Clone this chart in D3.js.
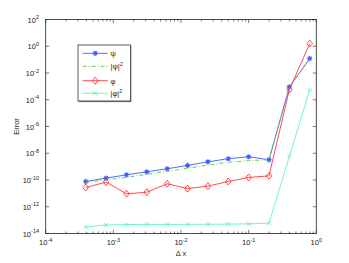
<!DOCTYPE html>
<html><head><meta charset="utf-8">
<script src="https://cdn.jsdelivr.net/npm/d3@7"></script>
<style>body{margin:0;background:#fff}svg{display:block}text{font-family:"Liberation Sans",Arial,sans-serif}</style>
</head><body>
<script>
const dx = [0.000390625, 0.00078125, 0.0015625, 0.003125, 0.00625, 0.0125, 0.025, 0.05, 0.1, 0.2, 0.4, 0.8];
const psiErr   = [-10.11, -9.86, -9.61, -9.39, -9.16, -8.91, -8.64, -8.41, -8.26, -8.49, -3.04, -0.92].map(v => Math.pow(10, v));
const psi2Err  = [-10.19, -9.99, -9.80, -9.58, -9.35, -9.13, -8.89, -8.67, -8.55, -8.49, -3.06, -0.95].map(v => Math.pow(10, v));
const phiErr   = [-10.56, -10.16, -11.03, -10.91, -10.28, -10.64, -10.46, -10.11, -9.81, -9.69, -3.24, 0.20].map(v => Math.pow(10, v));
const phi2Err  = [-13.53, -13.36, -13.33, -13.32, -13.32, -13.32, -13.31, -13.30, -13.28, -13.23, -8.24, -3.27].map(v => Math.pow(10, v));
const xTickExp = [-4, -3, -2, -1, 0];
const yTickExp = [2, 0, -2, -4, -6, -8, -10, -12, -14];
const seriesNames = ["ψ", "|ψ|", "φ", "|φ|"];

const W = 349, H = 263;
const m = {l: 45.7, r: 349 - 316.3, t: 19.5, b: 263 - 233.5};
const svg = d3.select("body").append("svg").attr("width", W).attr("height", H);
const x = d3.scaleLog().domain([1e-4, 1]).range([m.l, W - m.r]);
const y = d3.scaleLog().domain([1e-14, 1e2]).range([H - m.b, m.t]);

const series = [
  {name: seriesNames[0], sup: "", data: psiErr, color: "#3a5cff", dash: null, marker: "star"},
  {name: seriesNames[1], sup: "2", data: psi2Err, color: "#5fc44a", dash: "4,2,1,2", marker: null},
  {name: seriesNames[2], sup: "", data: phiErr, color: "#ff3838", dash: null, marker: "diamond"},
  {name: seriesNames[3], sup: "2", data: phi2Err, color: "#5ff5b8", dash: null, marker: "x"}
];

// axes box
const g = svg.append("g");
const line = d3.line().x((d, i) => x(dx[i])).y(d => y(d));

series.forEach(s => {
  g.append("path").attr("d", line(s.data)).attr("fill", "none")
    .attr("stroke", s.color).attr("stroke-width", 0.9)
    .attr("stroke-dasharray", s.dash);
  if (s.marker) {
    s.data.forEach((v, i) => drawMarker(g, s.marker, x(dx[i]), y(v), s.color));
  }
});

function drawMarker(p, type, cx, cy, c) {
  if (type === "diamond") {
    p.append("path").attr("d", `M${cx},${cy-3.5}L${cx+2.8},${cy}L${cx},${cy+3.5}L${cx-2.8},${cy}Z`)
      .attr("fill", "none").attr("stroke", c).attr("stroke-width", 0.9);
  } else if (type === "x") {
    const r = 2;
    p.append("path").attr("d", `M${cx-r},${cy-r}L${cx+r},${cy+r}M${cx-r},${cy+r}L${cx+r},${cy-r}`)
      .attr("stroke", c).attr("stroke-width", 0.9);
  } else if (type === "star") {
    const r = 2.6;
    p.append("path").attr("d", `M${cx-r},${cy}L${cx+r},${cy}M${cx},${cy-r}L${cx},${cy+r}M${cx-r*0.7},${cy-r*0.7}L${cx+r*0.7},${cy+r*0.7}M${cx-r*0.7},${cy+r*0.7}L${cx+r*0.7},${cy-r*0.7}`)
      .attr("stroke", c).attr("stroke-width", 1.1);
  }
}

// frame
const x0 = x.range()[0], x1 = x.range()[1], y0 = y.range()[0], y1 = y.range()[1];
svg.append("rect").attr("x", x0).attr("y", y1).attr("width", x1 - x0).attr("height", y0 - y1)
  .attr("fill", "none").attr("stroke", "#222").attr("stroke-width", 0.8);

// ticks
const tk = svg.append("g").attr("stroke", "#222").attr("stroke-width", 0.6);
const minorX = [];
for (let e = -4; e < 0; e++) for (let k = 2; k <= 9; k++) minorX.push(k * Math.pow(10, e));
xTickExp.forEach(e => {
  const px = x(Math.pow(10, e));
  tk.append("line").attr("x1", px).attr("x2", px).attr("y1", y0).attr("y2", y0 - 3.5);
  tk.append("line").attr("x1", px).attr("x2", px).attr("y1", y1).attr("y2", y1 + 3.5);
});
minorX.forEach(v => {
  const px = x(v);
  tk.append("line").attr("x1", px).attr("x2", px).attr("y1", y0).attr("y2", y0 - 2);
  tk.append("line").attr("x1", px).attr("x2", px).attr("y1", y1).attr("y2", y1 + 2);
});
yTickExp.forEach(e => {
  const py = y(Math.pow(10, e));
  tk.append("line").attr("x1", x0).attr("x2", x0 + 3.5).attr("y1", py).attr("y2", py);
  tk.append("line").attr("x1", x1).attr("x2", x1 - 3.5).attr("y1", py).attr("y2", py);
});

// tick labels
const fs = 7.5;
xTickExp.forEach(e => {
  const t = svg.append("text").attr("x", x(Math.pow(10, e))).attr("y", 245)
    .attr("text-anchor", "middle").attr("font-size", fs).attr("fill", "#222");
  t.append("tspan").text("10");
  t.append("tspan").attr("dy", -3.5).attr("font-size", 5.5).text(String(e));
});
yTickExp.forEach(e => {
  const t = svg.append("text").attr("x", 39).attr("y", y(Math.pow(10, e)) + 3)
    .attr("text-anchor", "end").attr("font-size", fs).attr("fill", "#222");
  t.append("tspan").text("10");
  t.append("tspan").attr("dy", -3.5).attr("font-size", 5.5).text(String(e));
});

// axis labels
svg.append("text").attr("x", (x0 + x1) / 2).attr("y", 256).attr("text-anchor", "middle")
  .attr("font-size", fs).attr("fill", "#222").text("Δ x");
svg.append("text").attr("transform", `translate(19,${(y0 + y1) / 2}) rotate(-90)`)
  .attr("text-anchor", "middle").attr("font-size", fs).attr("fill", "#222").text("Error");

// legend
const lg = svg.append("g");
lg.append("rect").attr("x", 78).attr("y", 45).attr("width", 52.5).attr("height", 56)
  .attr("fill", "#fff").attr("stroke", "#333").attr("stroke-width", 0.8);
lg.append("line").attr("x1", 130.8).attr("x2", 130.8).attr("y1", 45.6).attr("y2", 101.8).attr("stroke", "#555").attr("stroke-width", 1);
lg.append("line").attr("x1", 78.6).attr("x2", 131).attr("y1", 101.6).attr("y2", 101.6).attr("stroke", "#555").attr("stroke-width", 1);
const ly = [53.3, 66.3, 80.7, 93.3];
series.forEach((s, i) => {
  lg.append("line").attr("x1", 82.7).attr("x2", 107.7).attr("y1", ly[i]).attr("y2", ly[i])
    .attr("stroke", s.color).attr("stroke-width", 0.9).attr("stroke-dasharray", s.dash);
  if (s.marker) drawMarker(lg, s.marker, 95.2, ly[i], s.color);
  const t = lg.append("text").attr("x", 110.5).attr("y", ly[i] + 2.8).attr("font-size", fs).attr("fill", "#222");
  t.append("tspan").text(s.name);
  if (s.sup) t.append("tspan").attr("dy", -3.5).attr("font-size", 5.5).text(s.sup);
});
</script>
</body></html>
